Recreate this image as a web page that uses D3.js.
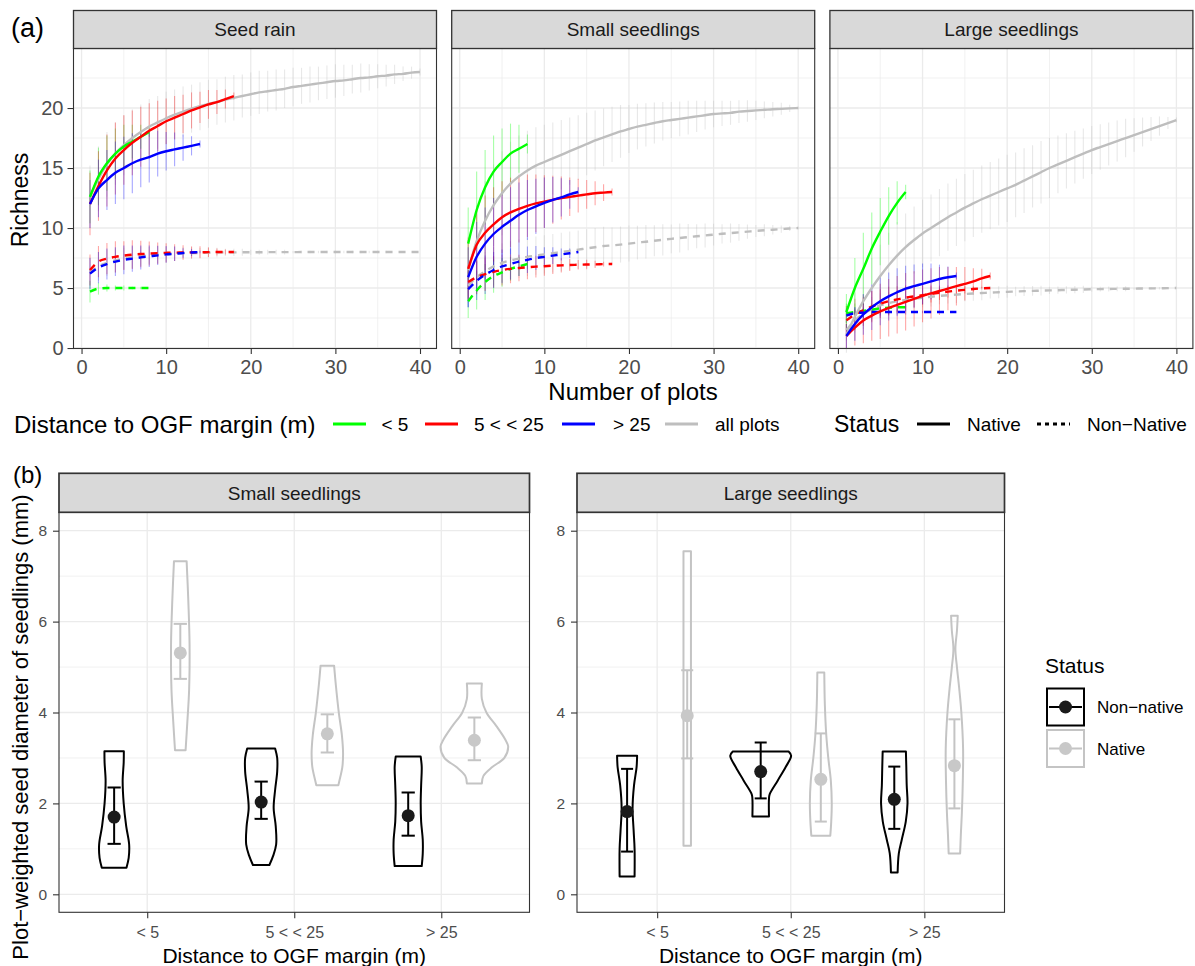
<!DOCTYPE html>
<html><head><meta charset="utf-8">
<script src="https://cdn.jsdelivr.net/npm/d3@7"></script>
<style>body{margin:0;background:#fff}svg{display:block}text{font-family:"Liberation Sans",Arial,Helvetica,sans-serif}</style>
</head><body><svg id="chart" width="1195" height="966"></svg>
<script>
// ---------------- DATA: panel (a) rarefaction curves ----------------
const facetsA = ["Seed rain", "Small seedlings", "Large seedlings"];
const distGroups = ["< 5", "5 < < 25", "> 25", "all plots"];
const xTicksA = [0, 10, 20, 30, 40];
const yTicksA = [0, 5, 10, 15, 20];
// order inside each array: [< 5, 5 < < 25, > 25, all plots]; x = 1..n plots
const rainNativeMean = [
  [12.6,14.3,15.4,16.2,16.8,17.2,17.6,18.0],
  [12.0,13.5,14.8,15.8,16.5,17.1,17.6,18.1,18.5,18.9,19.2,19.5,19.8,20.05,20.3,20.5,20.75,21.0],
  [12.0,13.3,14.0,14.6,15.0,15.4,15.7,15.9,16.2,16.4,16.55,16.7,16.85,17.0],
  [12.6,14.1,15.3,16.2,16.9,17.5,18.0,18.45,18.8,19.15,19.45,19.7,19.95,20.15,20.35,20.5,20.7,20.85,21.0,21.15,21.3,21.4,21.5,21.6,21.75,21.85,21.95,22.05,22.15,22.25,22.3,22.4,22.5,22.55,22.65,22.7,22.8,22.85,22.95,23.0]];
const rainNativeSD = [
  [2.2,2.4,2.3,2.1,1.8,1.4,1.0,0.4],
  [2.6,2.9,3.0,3.0,2.9,2.7,2.5,2.3,2.1,1.9,1.8,1.6,1.5,1.3,1.2,1.0,0.8,0.3],
  [2.0,2.4,2.5,2.6,2.6,2.5,2.3,2.1,1.9,1.6,1.4,1.1,0.8,0.3],
  [2.6,2.7,2.7,2.6,2.5,2.4,2.3,2.3,2.2,2.2,2.1,2.1,2.0,2.0,2.0,1.9,1.9,1.9,1.8,1.8,1.8,1.7,1.7,1.6,1.6,1.5,1.5,1.4,1.4,1.4,1.3,1.2,1.2,1.1,1.0,0.9,0.8,0.6,0.5,0.3]];
const rainNonNativeMean = [
  [4.7,4.95,5.0,5.0,5.0,5.0,5.0,5.0],
  [6.5,7.2,7.45,7.6,7.7,7.78,7.83,7.87,7.9,7.93,7.95,7.96,7.97,7.98,7.99,8.0,8.0,8.0],
  [6.2,6.7,7.0,7.2,7.35,7.45,7.55,7.65,7.72,7.8,7.86,7.92,7.96,8.0],
  [6.3,6.8,7.1,7.3,7.45,7.55,7.65,7.72,7.78,7.82,7.86,7.89,7.91,7.93,7.95,7.96,7.97,7.97,7.98,7.98,7.98,7.99,7.99,7.99,7.99,8,8,8,8,8,8,8,8,8,8,8,8,8,8,8]];
const rainNonNativeSD = [
  [0.9,0.5,0.3,0.2,0.2,0.1,0.1,0.0],
  [1.3,1.3,1.3,1.3,1.2,1.2,1.1,1.0,0.9,0.8,0.7,0.6,0.5,0.5,0.4,0.3,0.2,0.1],
  [1.3,1.3,1.3,1.2,1.2,1.1,1.0,0.9,0.8,0.7,0.6,0.4,0.3,0.1],
  [1.3,1.2,1.1,1.0,0.9,0.9,0.8,0.7,0.7,0.6,0.6,0.5,0.5,0.4,0.4,0.4,0.3,0.3,0.3,0.2,0.2,0.2,0.2,0.2,0.1,0.1,0.1,0.1,0.1,0.1,0.1,0.1,0.1,0.1,0.1,0.1,0,0,0,0]];

const smallNativeMean = [
  [8.7,11.5,13.4,14.7,15.5,16.2,16.6,17.0],
  [6.6,8.6,9.6,10.3,10.9,11.3,11.6,11.85,12.05,12.2,12.35,12.5,12.6,12.7,12.8,12.9,12.95,13.0],
  [5.9,7.6,8.7,9.5,10.1,10.6,11.1,11.5,11.8,12.1,12.35,12.55,12.8,13.0],
  [6.5,8.9,10.6,11.9,12.9,13.7,14.3,14.8,15.2,15.5,15.8,16.1,16.4,16.7,17.0,17.3,17.55,17.8,18.05,18.25,18.45,18.6,18.75,18.9,19.0,19.1,19.2,19.3,19.4,19.5,19.55,19.6,19.7,19.75,19.8,19.85,19.9,19.93,19.97,20.0]];
const smallNativeSD = [
  [3.0,3.2,3.1,3.0,2.8,2.5,2.0,0.8],
  [2.6,3.0,3.1,3.1,3.0,2.9,2.8,2.6,2.4,2.2,2.0,1.8,1.6,1.4,1.2,1.0,0.7,0.3],
  [2.5,2.9,3.0,3.0,2.9,2.8,2.7,2.5,2.3,2.1,1.9,1.6,1.2,0.4],
  [2.5,3.0,3.3,3.4,3.5,3.5,3.4,3.3,3.2,3.1,3.0,2.9,2.8,2.7,2.6,2.5,2.4,2.3,2.2,2.0,1.9,1.8,1.7,1.6,1.5,1.45,1.4,1.3,1.2,1.1,1.05,1.0,0.95,0.9,0.8,0.7,0.6,0.5,0.3,0.1]];
const smallNonNativeMean = [
  [3.9,4.8,5.5,6.0,6.3,6.6,6.8,7.0],
  [5.5,5.9,6.15,6.35,6.5,6.6,6.67,6.73,6.78,6.82,6.86,6.89,6.92,6.94,6.96,6.97,6.99,7.0],
  [4.9,5.6,6.1,6.5,6.8,7.0,7.2,7.35,7.5,7.6,7.7,7.8,7.9,8.0],
  [5.2,5.9,6.4,6.8,7.1,7.3,7.45,7.6,7.7,7.8,7.9,8.0,8.1,8.2,8.3,8.4,8.5,8.55,8.62,8.7,8.78,8.86,8.94,9.02,9.1,9.17,9.24,9.31,9.38,9.45,9.52,9.58,9.64,9.7,9.76,9.81,9.86,9.91,9.96,10.0]];
const smallNonNativeSD = [
  [1.4,1.6,1.5,1.4,1.2,1.0,0.8,0.4],
  [1.4,1.4,1.4,1.3,1.3,1.2,1.1,1.0,0.9,0.8,0.7,0.6,0.5,0.4,0.4,0.3,0.2,0.1],
  [1.5,1.6,1.6,1.5,1.4,1.3,1.2,1.1,1.0,0.8,0.7,0.5,0.4,0.1],
  [1.4,1.5,1.6,1.6,1.6,1.6,1.6,1.6,1.6,1.6,1.6,1.6,1.6,1.6,1.6,1.6,1.6,1.5,1.5,1.5,1.4,1.4,1.3,1.3,1.2,1.2,1.1,1.0,1.0,0.9,0.8,0.8,0.7,0.6,0.5,0.5,0.4,0.3,0.2,0.1]];

const largeNativeMean = [
  [3.0,5.0,6.6,8.3,9.7,11.0,12.1,13.0],
  [1.0,1.7,2.3,2.7,3.05,3.35,3.6,3.85,4.1,4.35,4.55,4.75,4.95,5.15,5.35,5.55,5.8,6.0],
  [1.0,2.0,2.8,3.4,3.9,4.3,4.65,4.95,5.15,5.35,5.55,5.75,5.9,6.0],
  [1.1,2.6,3.9,5.0,6.0,6.9,7.7,8.4,9.0,9.55,10.0,10.45,10.9,11.3,11.7,12.05,12.4,12.7,13.0,13.3,13.6,13.95,14.3,14.65,15.0,15.3,15.6,15.9,16.2,16.5,16.75,17.0,17.25,17.5,17.75,18.0,18.25,18.5,18.75,19.0]];
const largeNativeSD = [
  [1.5,2.5,3.0,3.0,2.8,2.4,1.8,0.6],
  [1.0,1.5,1.9,2.1,2.3,2.4,2.4,2.4,2.3,2.2,2.1,2.0,1.8,1.6,1.4,1.1,0.8,0.3],
  [1.0,1.4,1.7,1.9,2.0,2.0,2.0,1.9,1.8,1.7,1.5,1.2,0.9,0.3],
  [1.5,2.0,2.3,2.5,2.6,2.7,2.8,2.8,2.8,2.8,2.8,2.8,2.8,2.8,2.8,2.8,2.8,2.8,2.8,2.8,2.7,2.7,2.6,2.6,2.5,2.4,2.3,2.2,2.1,2.0,1.9,1.8,1.7,1.6,1.4,1.2,1.0,0.8,0.5,0.2]];
const largeNonNativeMean = [
  [2.9,3.0,3.1,3.2,3.3,3.35,3.4,3.4],
  [2.3,2.8,3.15,3.45,3.7,3.9,4.05,4.2,4.3,4.4,4.5,4.6,4.7,4.78,4.85,4.92,4.97,5.0],
  [2.7,2.9,2.95,3.0,3.0,3.0,3.0,3.0,3.0,3.0,3.0,3.0,3.0,3.0],
  [1.5,2.3,2.85,3.25,3.55,3.75,3.9,4.0,4.1,4.2,4.27,4.34,4.4,4.45,4.5,4.54,4.58,4.62,4.65,4.68,4.71,4.74,4.76,4.78,4.8,4.82,4.84,4.86,4.88,4.9,4.91,4.92,4.93,4.94,4.95,4.96,4.97,4.98,4.99,5.0]];
const largeNonNativeSD = [
  [0.8,0.7,0.6,0.5,0.4,0.3,0.2,0.1],
  [1.2,1.3,1.3,1.3,1.2,1.2,1.1,1.0,0.9,0.8,0.7,0.6,0.5,0.4,0.3,0.2,0.1,0.0],
  [0.6,0.5,0.4,0.3,0.3,0.2,0.2,0.2,0.1,0.1,0.1,0.1,0.0,0.0],
  [0.9,1.0,1.0,1.0,1.0,0.9,0.9,0.9,0.8,0.8,0.8,0.7,0.7,0.7,0.6,0.6,0.6,0.5,0.5,0.5,0.4,0.4,0.4,0.4,0.3,0.3,0.3,0.3,0.3,0.2,0.2,0.2,0.2,0.2,0.1,0.1,0.1,0.1,0.1,0]];

// ---------------- DATA: panel (b) seed diameter violins ----------------
const facetsB = ["Small seedlings", "Large seedlings"];
const distCats = ["< 5", "5 < < 25", "> 25"];
const statusB = ["Non−native", "Native"];
const yTicksB = [0, 2, 4, 6, 8];
const smallNonNativeDiam = [1.70, 2.03, 1.73];
const smallNonNativeLo   = [1.11, 1.66, 1.29];
const smallNonNativeHi   = [2.35, 2.48, 2.24];
const smallNativeDiam    = [5.31, 3.53, 3.39];
const smallNativeLo      = [4.74, 3.12, 2.95];
const smallNativeHi      = [5.95, 3.96, 3.89];
const largeNonNativeDiam = [1.82, 2.70, 2.09];
const largeNonNativeLo   = [0.94, 2.11, 1.44];
const largeNonNativeHi   = [2.76, 3.34, 2.81];
const largeNativeDiam    = [3.93, 2.53, 2.83];
const largeNativeLo      = [2.99, 1.60, 1.89];
const largeNativeHi      = [4.93, 3.54, 3.85];
// violin outlines: [diameter, relative half-width (% of category step)]
const smallNonNativeViolin = [
  [[3.15,6.6],[2.9,6.5],[2.5,5.8],[2.0,6.5],[1.5,8.2],[1.1,10.2],[0.8,9.9],[0.585,8.4]],
  [[3.21,9.5],[3.0,10.9],[2.7,10.9],[2.3,9.5],[1.9,8.5],[1.5,9.9],[1.1,10.2],[0.85,8.2],[0.645,5.6]],
  [[3.03,8.5],[2.8,9.2],[2.4,8.8],[2.0,8.5],[1.6,8.8],[1.2,9.9],[0.9,9.9],[0.62,9.2]]];
const smallNativeViolin = [
  [[7.33,4.3],[6.5,5.4],[5.5,6.3],[4.5,6.0],[3.8,4.8],[3.17,3.6]],
  [[5.03,4.6],[4.6,5.8],[4.0,7.8],[3.5,9.9],[3.1,10.7],[2.8,10.2],[2.5,8.2],[2.4,7.5]],
  [[4.64,5.1],[4.3,5.1],[4.0,8.2],[3.7,15],[3.4,21.1],[3.25,23],[3.0,20.4],[2.8,12.2],[2.6,6.1],[2.44,5.1]]];
const largeNonNativeViolin = [
  [[3.05,7.5],[2.8,7.1],[2.4,5.2],[1.9,4.1],[1.4,4.9],[1.0,5.6],[0.39,5.6]],
  [[3.14,20.9],[3.05,22.8],[2.8,18.7],[2.5,12.7],[2.2,6.7],[2.1,6.2],[1.71,6.2]],
  [[3.14,8.7],[2.8,9.0],[2.4,9.3],[2.0,9.9],[1.6,8.6],[1.2,5.6],[0.9,3.4],[0.48,2.5]]];
const largeNativeViolin = [
  [[7.55,2.8],[4.5,2.8],[1.07,2.8]],
  [[4.88,2.6],[4.2,3.0],[3.5,4.1],[3.0,5.6],[2.5,7.5],[2.0,8.2],[1.6,7.8],[1.29,7.1]],
  [[6.13,2.5],[5.8,1.9],[5.4,0.75],[5.0,1.9],[4.5,3.7],[4.0,5.2],[3.2,6.5],[2.5,6.3],[1.8,5.6],[1.3,4.8],[0.90,4.3]]];

// ---------------- DRAWING ----------------
const svg = d3.select("#chart");
const FONT = '"Liberation Sans",Arial,Helvetica,sans-serif';
const groupColor = d3.scaleOrdinal().domain(distGroups).range(["#00ff00", "#ff0000", "#0000ff", "#bebebe"]);
const statusColor = d3.scaleOrdinal().domain(statusB).range(["#000000", "#c4c4c4"]);
const pointFill = d3.scaleOrdinal().domain(statusB).range(["#1a1a1a", "#c8c8c8"]);

const nativeMeans = [rainNativeMean, smallNativeMean, largeNativeMean];
const nativeSDs = [rainNativeSD, smallNativeSD, largeNativeSD];
const nonMeans = [rainNonNativeMean, smallNonNativeMean, largeNonNativeMean];
const nonSDs = [rainNonNativeSD, smallNonNativeSD, largeNonNativeSD];

function styleAxis(ax, size, color) {
  ax.select(".domain").remove();
  ax.selectAll(".tick line").attr("stroke", "#333333").attr("stroke-width", 1.1);
  ax.selectAll(".tick text").attr("fill", color).style("font-size", size + "px").style("font-family", FONT);
}

// ----- (a) -----
const A = { top: 48.5, bottom: 348.5, stripTop: 10.5, w: 363, left0: 73.5, gap: 378.2 };
const drawOrder = [3, 0, 1, 2];
facetsA.forEach((facet, i) => {
  const L = A.left0 + i * A.gap, R = L + A.w;
  const x = d3.scaleLinear().domain([-0.95, 41.95]).range([L, R]);
  const y = d3.scaleLinear().domain([-0.04, 24.96]).range([A.bottom, A.top]);
  const g = svg.append("g");
  const xMinor = [5, 15, 25, 35], yMinor = [2.5, 7.5, 12.5, 17.5, 22.5];
  g.selectAll(".xm").data(xMinor).join("line").attr("x1", d => x(d)).attr("x2", d => x(d))
    .attr("y1", A.top).attr("y2", A.bottom).attr("stroke", "#ebebeb").attr("stroke-width", 0.7);
  g.selectAll(".ym").data(yMinor).join("line").attr("y1", d => y(d)).attr("y2", d => y(d))
    .attr("x1", L).attr("x2", R).attr("stroke", "#ebebeb").attr("stroke-width", 0.7);
  g.selectAll(".xM").data(xTicksA).join("line").attr("x1", d => x(d)).attr("x2", d => x(d))
    .attr("y1", A.top).attr("y2", A.bottom).attr("stroke", "#ebebeb").attr("stroke-width", 1.3);
  g.selectAll(".yM").data(yTicksA).join("line").attr("y1", d => y(d)).attr("y2", d => y(d))
    .attr("x1", L).attr("x2", R).attr("stroke", "#ebebeb").attr("stroke-width", 1.3);

  const statuses = [
    { means: nonMeans[i], sds: nonSDs[i], dash: "7,6" },
    { means: nativeMeans[i], sds: nativeSDs[i], dash: null }];
  statuses.forEach(s => {
    drawOrder.forEach(k => {
      const pts = s.means[k].map((m, j) => ({ n: j + 1, m, sd: s.sds[k][j] }));
      g.append("g").selectAll("line").data(pts).join("line")
        .attr("x1", d => x(d.n)).attr("x2", d => x(d.n))
        .attr("y1", d => y(d.m - d.sd)).attr("y2", d => y(d.m + d.sd))
        .attr("stroke", groupColor(distGroups[k])).attr("stroke-opacity", 0.35).attr("stroke-width", 1.1);
    });
  });
  const line = d3.line().x((d, j) => x(j + 1)).y(d => y(d)).curve(d3.curveMonotoneX);
  statuses.forEach(s => {
    drawOrder.forEach(k => {
      g.append("path").attr("d", line(s.means[k])).attr("fill", "none")
        .attr("stroke", groupColor(distGroups[k])).attr("stroke-width", 2.4)
        .attr("stroke-dasharray", s.dash);
    });
  });
  g.append("rect").attr("x", L).attr("y", A.top).attr("width", A.w).attr("height", A.bottom - A.top)
    .attr("fill", "none").attr("stroke", "#333333").attr("stroke-width", 1.1);
  g.append("rect").attr("x", L).attr("y", A.stripTop).attr("width", A.w).attr("height", A.top - A.stripTop)
    .attr("fill", "#d9d9d9").attr("stroke", "#333333").attr("stroke-width", 1.3);
  g.append("text").attr("x", (L + R) / 2).attr("y", (A.top + A.stripTop) / 2).attr("dy", "0.36em")
    .attr("text-anchor", "middle").attr("fill", "#1a1a1a").style("font-size", "19px").text(facet);
  const ax = g.append("g").attr("transform", `translate(0,${A.bottom})`)
    .call(d3.axisBottom(x).tickValues(xTicksA).tickSize(5.5).tickPadding(6));
  styleAxis(ax, 20, "#4d4d4d");
  if (i === 0) {
    const ay = g.append("g").attr("transform", `translate(${L},0)`)
      .call(d3.axisLeft(y).tickValues(yTicksA).tickSize(6).tickPadding(4));
    styleAxis(ay, 20, "#4d4d4d");
  }
});
svg.append("text").attr("x", 11).attr("y", 36.5).style("font-size", "27px").text("(a)");
svg.append("text").attr("transform", "translate(28,200) rotate(-90)").attr("text-anchor", "middle")
  .style("font-size", "23px").text("Richness");
svg.append("text").attr("x", 633).attr("y", 400).attr("text-anchor", "middle").style("font-size", "24px").text("Number of plots");

// legend (a)
const legY = 424;
svg.append("text").attr("x", 14).attr("y", legY).attr("dy", "0.36em").style("font-size", "24px").text("Distance to OGF margin (m)");
const keyXs = [333, 425, 562, 665];
const labXs = [381.5, 474, 613, 715];
distGroups.forEach((gname, k) => {
  svg.append("line").attr("x1", keyXs[k]).attr("x2", keyXs[k] + 33).attr("y1", legY).attr("y2", legY)
    .attr("stroke", groupColor(gname)).attr("stroke-width", 3);
  svg.append("text").attr("x", labXs[k]).attr("y", legY).attr("dy", "0.36em").style("font-size", "19px").text(gname);
});
svg.append("text").attr("x", 834).attr("y", legY).attr("dy", "0.36em").style("font-size", "23px").text("Status");
const statusA = ["Native", "Non−Native"];
[[917, 967, null], [1037, 1087, "4,4"]].forEach((p, k) => {
  svg.append("line").attr("x1", p[0]).attr("x2", p[0] + 33).attr("y1", legY).attr("y2", legY)
    .attr("stroke", "#000").attr("stroke-width", 3).attr("stroke-dasharray", p[2]);
  svg.append("text").attr("x", p[1]).attr("y", legY).attr("dy", "0.36em").style("font-size", "19px").text(statusA[k]);
});

// ----- (b) -----
const B = { top: 512.3, bottom: 912.3, stripTop: 473.3 };
const panelsB = [
  { L: 59, R: 529.5, nonMean: smallNonNativeDiam, nonLo: smallNonNativeLo, nonHi: smallNonNativeHi,
    natMean: smallNativeDiam, natLo: smallNativeLo, natHi: smallNativeHi, nonV: smallNonNativeViolin, natV: smallNativeViolin },
  { L: 577, R: 1004.5, nonMean: largeNonNativeDiam, nonLo: largeNonNativeLo, nonHi: largeNonNativeHi,
    natMean: largeNativeDiam, natLo: largeNativeLo, natHi: largeNativeHi, nonV: largeNonNativeViolin, natV: largeNativeViolin }];
const yB = d3.scaleLinear().domain([-0.396, 8.405]).range([B.bottom, B.top]);
panelsB.forEach((p, i) => {
  const x = d3.scalePoint().domain(distCats).range([p.L, p.R]).padding(0.6);
  const step = x.step(), dodge = 0.225 * step;
  const g = svg.append("g");
  g.selectAll(".ym").data([1, 3, 5, 7]).join("line").attr("y1", d => yB(d)).attr("y2", d => yB(d))
    .attr("x1", p.L).attr("x2", p.R).attr("stroke", "#ebebeb").attr("stroke-width", 0.7);
  g.selectAll(".yM").data(yTicksB).join("line").attr("y1", d => yB(d)).attr("y2", d => yB(d))
    .attr("x1", p.L).attr("x2", p.R).attr("stroke", "#ebebeb").attr("stroke-width", 1.3);
  g.selectAll(".xM").data(distCats).join("line").attr("x1", d => x(d)).attr("x2", d => x(d))
    .attr("y1", B.top).attr("y2", B.bottom).attr("stroke", "#ebebeb").attr("stroke-width", 1.3);

  const groupsB = [
    { status: statusB[0], off: -dodge, mean: p.nonMean, lo: p.nonLo, hi: p.nonHi, v: p.nonV },
    { status: statusB[1], off: dodge, mean: p.natMean, lo: p.natLo, hi: p.natHi, v: p.natV }];
  groupsB.forEach(s => {
    distCats.forEach((c, j) => {
      const cx = x(c) + s.off;
      const area = d3.area().curve(d3.curveCatmullRom.alpha(0.5))
        .y(d => yB(d[0])).x0(d => cx - d[1] / 100 * step).x1(d => cx + d[1] / 100 * step);
      g.append("path").attr("d", area(s.v[j])).attr("fill", "none")
        .attr("stroke", statusColor(s.status)).attr("stroke-width", 2).attr("stroke-linejoin", "round");
    });
  });
  groupsB.forEach(s => {
    distCats.forEach((c, j) => {
      const cx = x(c) + s.off, cw = 0.045 * step;
      const col = statusColor(s.status);
      g.append("line").attr("x1", cx).attr("x2", cx).attr("y1", yB(s.lo[j])).attr("y2", yB(s.hi[j]))
        .attr("stroke", col).attr("stroke-width", 2);
      [s.lo[j], s.hi[j]].forEach(v => g.append("line").attr("x1", cx - cw).attr("x2", cx + cw)
        .attr("y1", yB(v)).attr("y2", yB(v)).attr("stroke", col).attr("stroke-width", 2));
      g.append("circle").attr("cx", cx).attr("cy", yB(s.mean[j])).attr("r", 6.5).attr("fill", pointFill(s.status));
    });
  });
  g.append("rect").attr("x", p.L).attr("y", B.top).attr("width", p.R - p.L).attr("height", B.bottom - B.top)
    .attr("fill", "none").attr("stroke", "#333333").attr("stroke-width", 1.1);
  g.append("rect").attr("x", p.L).attr("y", B.stripTop).attr("width", p.R - p.L).attr("height", B.top - B.stripTop)
    .attr("fill", "#d9d9d9").attr("stroke", "#333333").attr("stroke-width", 1.7);
  g.append("text").attr("x", (p.L + p.R) / 2).attr("y", (B.top + B.stripTop) / 2).attr("dy", "0.36em")
    .attr("text-anchor", "middle").attr("fill", "#1a1a1a").style("font-size", "19px").text(facetsB[i]);
  const ax = g.append("g").attr("transform", `translate(0,${B.bottom})`)
    .call(d3.axisBottom(x).tickSize(6).tickPadding(8));
  styleAxis(ax, 16, "#4d4d4d");
  const ay = g.append("g").attr("transform", `translate(${p.L},0)`)
    .call(d3.axisLeft(yB).tickValues(yTicksB).tickSize(6).tickPadding(6));
  styleAxis(ay, 15.5, "#4d4d4d");
  g.append("text").attr("x", (p.L + p.R) / 2).attr("y", 963).attr("text-anchor", "middle")
    .style("font-size", "21px").text("Distance to OGF margin (m)");
});
svg.append("text").attr("x", 13).attr("y", 483).style("font-size", "24px").text("(b)");
svg.append("text").attr("transform", "translate(28,727) rotate(-90)").attr("text-anchor", "middle")
  .style("font-size", "22px").text("Plot−weighted seed diameter of seedlings (mm)");

// legend (b)
svg.append("text").attr("x", 1045).attr("y", 673).style("font-size", "21px").text("Status");
statusB.forEach((s, k) => {
  const ky = 688.5 + k * 41.5;
  svg.append("rect").attr("x", 1047).attr("y", ky).attr("width", 37).attr("height", 37)
    .attr("fill", "#fff").attr("stroke", statusColor(s)).attr("stroke-width", 2);
  svg.append("line").attr("x1", 1049).attr("x2", 1082).attr("y1", ky + 18.5).attr("y2", ky + 18.5)
    .attr("stroke", statusColor(s)).attr("stroke-width", 2);
  svg.append("circle").attr("cx", 1065.5).attr("cy", ky + 18.5).attr("r", 6.5).attr("fill", pointFill(s));
  svg.append("text").attr("x", 1097).attr("y", ky + 18.5).attr("dy", "0.36em").style("font-size", "17px").text(s);
});
</script></body></html>
